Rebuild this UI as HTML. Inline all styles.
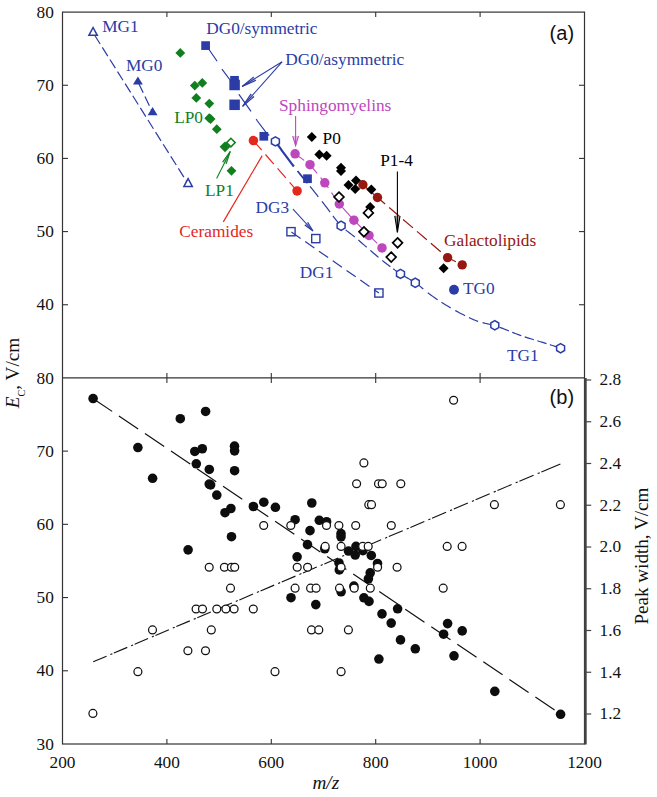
<!DOCTYPE html>
<html><head><meta charset="utf-8"><title>Figure</title>
<style>html,body{margin:0;padding:0;background:#fff;}svg{display:block;}</style>
</head><body>
<svg width="657" height="797" viewBox="0 0 657 797">
<rect width="657" height="797" fill="#fff"/>
<line x1="93.1" y1="32.7" x2="188.1" y2="183.9" stroke="#2b3ca6" stroke-width="1.2" stroke-dasharray="10.3 4" stroke-dashoffset="-3" stroke-linecap="butt"/>
<line x1="137.9" y1="81.7" x2="152.6" y2="112.4" stroke="#2b3ca6" stroke-width="1.2" stroke-dasharray="10.3 4" stroke-dashoffset="-2" stroke-linecap="butt"/>
<polyline points="205.7,45.5 208.7,49 217.1,61.2 221.6,68.8 230.8,81 239.1,94.7 252.1,113 257.4,121 265.8,132.2 275.4,141.4" fill="none" stroke="#2b3ca6" stroke-width="1.2" stroke-dasharray="21 9.3" stroke-dashoffset="1.5"/>
<polyline points="277.4,144.24 278.9,146.35 280.4,148.44 281.9,150.52 283.4,152.57 284.9,154.61 286.4,156.64 287.9,158.64 289.4,160.63 290.9,162.61 292.4,164.56 293.9,166.5" fill="none" stroke="#2b3ca6" stroke-width="2.2"/>
<polyline points="297.5,171.03 299.17,173.08 300.83,175.1 302.5,177.11 304.17,179.12 305.83,181.14 307.5,183.17" fill="none" stroke="#2b3ca6" stroke-width="1.7"/>
<polyline points="310,186.27 311.66,188.36 313.32,190.45 314.98,192.55 316.64,194.66 318.3,196.77" fill="none" stroke="#2b3ca6" stroke-width="1.2"/>
<polyline points="321.9,201.35 323.54,203.44 325.18,205.53 326.82,207.66 328.46,209.86 330.1,212.1" fill="none" stroke="#2b3ca6" stroke-width="1.2"/>
<polyline points="332.9,215.9 334.54,218.09 336.18,220.2 337.82,222.2 339.46,224.08 341.1,225.8" fill="none" stroke="#2b3ca6" stroke-width="1.2"/>
<polyline points="345.7,229.93 347.22,231.15 348.73,232.32 350.25,233.48 351.77,234.63 353.28,235.8 354.8,237.01" fill="none" stroke="#2b3ca6" stroke-width="1.2"/>
<polyline points="358.4,240.05 360.06,241.48 361.72,242.94 363.38,244.39 365.04,245.85 366.7,247.3" fill="none" stroke="#2b3ca6" stroke-width="1.2"/>
<polyline points="370.3,250.4 371.94,251.79 373.58,253.19 375.22,254.58 376.86,255.97 378.5,257.34" fill="none" stroke="#2b3ca6" stroke-width="1.2"/>
<polyline points="382.2,260.38 383.84,261.69 385.48,262.97 387.12,264.24 388.76,265.49 390.4,266.74" fill="none" stroke="#2b3ca6" stroke-width="1.2"/>
<polyline points="393.2,268.81 395.02,270.13 396.85,271.43 398.68,272.68 400.5,273.9" fill="none" stroke="#2b3ca6" stroke-width="1.2"/>
<polyline points="404,276.06 405.6,276.98 407.2,277.88 408.8,278.78 410.4,279.69 412,280.63" fill="none" stroke="#2b3ca6" stroke-width="1.2"/>
<polyline points="415.4,282.8 416.98,283.92 418.56,285.13 420.14,286.39 421.72,287.7 423.3,289.02" fill="none" stroke="#2b3ca6" stroke-width="1.2"/>
<polyline points="427.8,292.73 429.45,294 431.1,295.2 432.75,296.37 434.4,297.53 436.05,298.66 437.7,299.78" fill="none" stroke="#2b3ca6" stroke-width="1.2"/>
<polyline points="441.5,302.28 443.03,303.26 444.57,304.22 446.1,305.16 447.63,306.09 449.17,307.01 450.7,307.92" fill="none" stroke="#2b3ca6" stroke-width="1.2"/>
<polyline points="455.2,310.49 456.85,311.4 458.5,312.29 460.15,313.16 461.8,314 463.45,314.83 465.1,315.67" fill="none" stroke="#2b3ca6" stroke-width="1.2"/>
<polyline points="468.9,317.55 470.43,318.28 471.97,318.99 473.5,319.66 475.03,320.29 476.57,320.87 478.1,321.4" fill="none" stroke="#2b3ca6" stroke-width="1.2"/>
<polyline points="482.6,322.68 484.3,323.09 486,323.48 487.7,323.86 489.4,324.25 491.1,324.65 492.8,325.09 494.5,325.57" fill="none" stroke="#2b3ca6" stroke-width="1.2"/>
<polyline points="499.6,327.26 501.13,327.82 502.67,328.4 504.2,329 505.73,329.61 507.27,330.23 508.8,330.85" fill="none" stroke="#2b3ca6" stroke-width="1.2"/>
<polyline points="512.2,332.24 513.72,332.85 515.23,333.45 516.75,334.04 518.27,334.61 519.78,335.17 521.3,335.7" fill="none" stroke="#2b3ca6" stroke-width="1.2"/>
<polyline points="524.7,336.84 526.23,337.34 527.77,337.84 529.3,338.32 530.83,338.8 532.37,339.28 533.9,339.75" fill="none" stroke="#2b3ca6" stroke-width="1.2"/>
<polyline points="537.3,340.79 538.83,341.25 540.37,341.72 541.9,342.19 543.43,342.66 544.97,343.13 546.5,343.61" fill="none" stroke="#2b3ca6" stroke-width="1.2"/>
<polyline points="549.9,344.68 551.6,345.23 553.3,345.77 555,346.32 556.7,346.87 558.4,347.42 560.1,347.97" fill="none" stroke="#2b3ca6" stroke-width="1.2"/>
<line x1="291" y1="231.7" x2="378.9" y2="293" stroke="#2b3ca6" stroke-width="1.2" stroke-dasharray="11.2 5.6" stroke-dashoffset="-0.5" stroke-linecap="butt"/>
<line x1="253.4" y1="140.6" x2="297.1" y2="190.9" stroke="#e3281e" stroke-width="1.2" stroke-dasharray="12.7 5.7" stroke-dashoffset="0" stroke-linecap="butt"/>
<line x1="223.3" y1="221.9" x2="262.2" y2="155.6" stroke="#e3281e" stroke-width="1.2" stroke-linecap="butt"/>
<polyline points="295.1,153.8 310,164.7 324.8,182.8 339.3,204 353.9,220.2 369,235.4 382,247.9" fill="none" stroke="#bd47bd" stroke-width="1.1" stroke-dasharray="13 5.5" stroke-dashoffset="1.8"/>
<line x1="362.9" y1="184.7" x2="377.5" y2="197.5" stroke="#961810" stroke-width="1.2" stroke-linecap="butt"/>
<polyline points="377.5,197.5 447.6,257.6 462.2,264.9" fill="none" stroke="#961810" stroke-width="1.2" stroke-dasharray="13 5.3" stroke-dashoffset="2.9"/>
<line x1="282.1" y1="61.8" x2="242.1" y2="86.5" stroke="#2b3ca6" stroke-width="1.1" stroke-linecap="butt"/>
<polyline points="253.81,76.92 242.1,86.5 255.91,80.32" fill="#2b3ca6" fill-opacity="0.35" stroke="#2b3ca6" stroke-width="1.1" stroke-linejoin="miter"/>
<line x1="282.1" y1="61.8" x2="242.6" y2="106.4" stroke="#2b3ca6" stroke-width="1.1" stroke-linecap="butt"/>
<polyline points="251.05,93.84 242.6,106.4 254.04,96.5" fill="#2b3ca6" fill-opacity="0.35" stroke="#2b3ca6" stroke-width="1.1" stroke-linejoin="miter"/>
<line x1="216.6" y1="178.4" x2="230.3" y2="151.4" stroke="#10801f" stroke-width="1.1" stroke-linecap="butt"/>
<polyline points="226.2,163.9 230.3,151.4 222.63,162.09" fill="#10801f" fill-opacity="0.35" stroke="#10801f" stroke-width="1.1" stroke-linejoin="miter"/>
<line x1="293" y1="209.2" x2="313" y2="231" stroke="#2b3ca6" stroke-width="1.1" stroke-linecap="butt"/>
<polyline points="304.77,224.98 313,231 307.71,222.28" fill="#2b3ca6" fill-opacity="0.35" stroke="#2b3ca6" stroke-width="1.1" stroke-linejoin="miter"/>
<line x1="295.6" y1="116" x2="295.6" y2="145.7" stroke="#bd47bd" stroke-width="1.1" stroke-linecap="butt"/>
<polyline points="292.7,136.1 295.6,145.7 298.5,136.1" fill="#bd47bd" fill-opacity="0.35" stroke="#bd47bd" stroke-width="1.1" stroke-linejoin="miter"/>
<line x1="397.4" y1="171.4" x2="397.4" y2="232.3" stroke="#000" stroke-width="1.1" stroke-linecap="butt"/>
<polyline points="394.8,215.8 397.4,232.3 400,215.8" fill="#000" fill-opacity="0.35" stroke="#000" stroke-width="1.1" stroke-linejoin="miter"/>
<polygon points="93.1,27.5 97.3,35.3 88.9,35.3" fill="#fff" stroke="#2b3ca6" stroke-width="1.5" stroke-linejoin="miter"/>
<polygon points="188.1,178.7 192.3,186.5 183.9,186.5" fill="#fff" stroke="#2b3ca6" stroke-width="1.5" stroke-linejoin="miter"/>
<polygon points="137.9,76.4 142.85,84.6 132.95,84.6" fill="#2b3ca6" stroke="none" stroke-width="0" stroke-linejoin="miter"/>
<polygon points="152.6,107.1 157.55,115.3 147.65,115.3" fill="#2b3ca6" stroke="none" stroke-width="0" stroke-linejoin="miter"/>
<polygon points="180.3,48 185.2,52.9 180.3,57.8 175.4,52.9" fill="#10801f" stroke="none" stroke-width="0"/>
<polygon points="194.8,80.7 199.7,85.6 194.8,90.5 189.9,85.6" fill="#10801f" stroke="none" stroke-width="0"/>
<polygon points="202.3,78 207.2,82.9 202.3,87.8 197.4,82.9" fill="#10801f" stroke="none" stroke-width="0"/>
<polygon points="196.3,93 201.2,97.9 196.3,102.8 191.4,97.9" fill="#10801f" stroke="none" stroke-width="0"/>
<polygon points="209.3,98.7 214.2,103.6 209.3,108.5 204.4,103.6" fill="#10801f" stroke="none" stroke-width="0"/>
<polygon points="209.2,113.3 214.1,118.2 209.2,123.1 204.3,118.2" fill="#10801f" stroke="none" stroke-width="0"/>
<polygon points="210.6,114.1 215.5,119 210.6,123.9 205.7,119" fill="#10801f" stroke="none" stroke-width="0"/>
<polygon points="216.8,124.3 221.7,129.2 216.8,134.1 211.9,129.2" fill="#10801f" stroke="none" stroke-width="0"/>
<polygon points="231.5,165.9 236.4,170.8 231.5,175.7 226.6,170.8" fill="#10801f" stroke="none" stroke-width="0"/>
<polygon points="225,141.4 230.4,146.8 225,152.2 219.6,146.8" fill="#10801f" stroke="none" stroke-width="0"/>
<polygon points="230.9,138.3 235.2,142.6 230.9,146.9 226.6,142.6" fill="#fff" stroke="#10801f" stroke-width="1.5"/>
<rect x="201.25" y="41.25" width="8.7" height="8.7" fill="#2b3ca6" stroke="none" stroke-width="0"/>
<rect x="259.45" y="131.95" width="8.7" height="8.7" fill="#2b3ca6" stroke="none" stroke-width="0"/>
<rect x="303.15" y="174.35" width="8.7" height="8.7" fill="#2b3ca6" stroke="none" stroke-width="0"/>
<rect x="230.15" y="75.95" width="8.7" height="8.7" fill="#2b3ca6" stroke="none" stroke-width="0"/>
<rect x="229.35" y="79.75" width="10.5" height="10.5" fill="#2b3ca6" stroke="none" stroke-width="0"/>
<rect x="229.35" y="99.55" width="10.5" height="10.5" fill="#2b3ca6" stroke="none" stroke-width="0"/>
<rect x="286.9" y="227.6" width="8.2" height="8.2" fill="none" stroke="#2b3ca6" stroke-width="1.4"/>
<rect x="311.7" y="234.5" width="8.2" height="8.2" fill="none" stroke="#2b3ca6" stroke-width="1.4"/>
<rect x="374.8" y="288.9" width="8.2" height="8.2" fill="none" stroke="#2b3ca6" stroke-width="1.4"/>
<circle cx="253.4" cy="140.6" r="4.75" fill="#e3281e" stroke="none" stroke-width="0"/>
<circle cx="297.1" cy="190.9" r="4.75" fill="#e3281e" stroke="none" stroke-width="0"/>
<circle cx="295.1" cy="153.8" r="4.75" fill="#bd47bd" stroke="none" stroke-width="0"/>
<circle cx="310" cy="164.7" r="4.75" fill="#bd47bd" stroke="none" stroke-width="0"/>
<circle cx="324.8" cy="182.8" r="4.75" fill="#bd47bd" stroke="none" stroke-width="0"/>
<circle cx="339.3" cy="204" r="4.75" fill="#bd47bd" stroke="none" stroke-width="0"/>
<circle cx="353.9" cy="220.2" r="4.75" fill="#bd47bd" stroke="none" stroke-width="0"/>
<circle cx="369" cy="235.4" r="4.75" fill="#bd47bd" stroke="none" stroke-width="0"/>
<circle cx="382" cy="247.9" r="4.75" fill="#bd47bd" stroke="none" stroke-width="0"/>
<polygon points="311.8,132.1 316.8,137.1 311.8,142.1 306.8,137.1" fill="#000" stroke="none" stroke-width="0"/>
<polygon points="319.3,149.4 324.3,154.4 319.3,159.4 314.3,154.4" fill="#000" stroke="none" stroke-width="0"/>
<polygon points="326.6,150.8 331.6,155.8 326.6,160.8 321.6,155.8" fill="#000" stroke="none" stroke-width="0"/>
<polygon points="341,162.7 346,167.7 341,172.7 336,167.7" fill="#000" stroke="none" stroke-width="0"/>
<polygon points="341,165.9 346,170.9 341,175.9 336,170.9" fill="#000" stroke="none" stroke-width="0"/>
<polygon points="348.5,180.1 353.5,185.1 348.5,190.1 343.5,185.1" fill="#000" stroke="none" stroke-width="0"/>
<polygon points="356,175.4 361,180.4 356,185.4 351,180.4" fill="#000" stroke="none" stroke-width="0"/>
<polygon points="355.2,184.1 360.2,189.1 355.2,194.1 350.2,189.1" fill="#000" stroke="none" stroke-width="0"/>
<polygon points="371.3,184.5 376.3,189.5 371.3,194.5 366.3,189.5" fill="#000" stroke="none" stroke-width="0"/>
<polygon points="370.2,201.9 375.2,206.9 370.2,211.9 365.2,206.9" fill="#000" stroke="none" stroke-width="0"/>
<polygon points="443.6,263.2 448.6,268.2 443.6,273.2 438.6,268.2" fill="#000" stroke="none" stroke-width="0"/>
<circle cx="362.9" cy="184.7" r="4.7" fill="#961810" stroke="none" stroke-width="0"/>
<circle cx="377.5" cy="197.5" r="4.7" fill="#961810" stroke="none" stroke-width="0"/>
<circle cx="447.6" cy="257.6" r="4.7" fill="#961810" stroke="none" stroke-width="0"/>
<circle cx="462.2" cy="264.9" r="4.7" fill="#961810" stroke="none" stroke-width="0"/>
<polygon points="339,192.1 343.9,197 339,201.9 334.1,197" fill="#fff" stroke="#000" stroke-width="1.7"/>
<polygon points="368.4,208 373.3,212.9 368.4,217.8 363.5,212.9" fill="#fff" stroke="#000" stroke-width="1.7"/>
<polygon points="363.9,226.9 368.8,231.8 363.9,236.7 359,231.8" fill="#fff" stroke="#000" stroke-width="1.7"/>
<polygon points="397.6,237.9 402.5,242.8 397.6,247.7 392.7,242.8" fill="#fff" stroke="#000" stroke-width="1.7"/>
<polygon points="391.2,252.2 396.1,257.1 391.2,262 386.3,257.1" fill="#fff" stroke="#000" stroke-width="1.7"/>
<polygon points="275.4,136.8 279.38,139.1 279.38,143.7 275.4,146 271.42,143.7 271.42,139.1" fill="#fff" stroke="#2b3ca6" stroke-width="1.5"/>
<polygon points="341.1,221.2 345.08,223.5 345.08,228.1 341.1,230.4 337.12,228.1 337.12,223.5" fill="#fff" stroke="#2b3ca6" stroke-width="1.5"/>
<polygon points="400.5,269.3 404.48,271.6 404.48,276.2 400.5,278.5 396.52,276.2 396.52,271.6" fill="#fff" stroke="#2b3ca6" stroke-width="1.5"/>
<polygon points="415.3,278.2 419.28,280.5 419.28,285.1 415.3,287.4 411.32,285.1 411.32,280.5" fill="#fff" stroke="#2b3ca6" stroke-width="1.5"/>
<polygon points="494.8,320.7 498.78,323 498.78,327.6 494.8,329.9 490.82,327.6 490.82,323" fill="#fff" stroke="#2b3ca6" stroke-width="1.5"/>
<polygon points="560.6,343.6 564.58,345.9 564.58,350.5 560.6,352.8 556.62,350.5 556.62,345.9" fill="#fff" stroke="#2b3ca6" stroke-width="1.5"/>
<circle cx="454" cy="289.8" r="4.95" fill="#2b3ca6" stroke="none" stroke-width="0"/>
<text x="102.2" y="32.3" fill="#2b3ca6" font-size="17.3" text-anchor="start" font-family="'Liberation Serif', serif">MG1</text>
<text x="125.9" y="71" fill="#2b3ca6" font-size="17.3" text-anchor="start" font-family="'Liberation Serif', serif">MG0</text>
<text x="206.2" y="33.8" fill="#2b3ca6" font-size="17.3" text-anchor="start" font-family="'Liberation Serif', serif">DG0/symmetric</text>
<text x="285.2" y="64.8" fill="#2b3ca6" font-size="17.3" text-anchor="start" font-family="'Liberation Serif', serif">DG0/asymmetric</text>
<text x="174.2" y="122.7" fill="#10801f" font-size="17.3" text-anchor="start" font-family="'Liberation Serif', serif">LP0</text>
<text x="205" y="195.6" fill="#10801f" font-size="17.3" text-anchor="start" font-family="'Liberation Serif', serif">LP1</text>
<text x="279" y="110.9" fill="#bd47bd" font-size="17.3" text-anchor="start" font-family="'Liberation Serif', serif">Sphingomyelins</text>
<text x="322.6" y="143.7" fill="#000" font-size="17.3" text-anchor="start" font-family="'Liberation Serif', serif">P0</text>
<text x="380.2" y="165.8" fill="#000" font-size="17.3" text-anchor="start" font-family="'Liberation Serif', serif">P1-4</text>
<text x="179.3" y="236.5" fill="#e3281e" font-size="17.3" text-anchor="start" font-family="'Liberation Serif', serif">Ceramides</text>
<text x="255.6" y="212.5" fill="#2b3ca6" font-size="17.3" text-anchor="start" font-family="'Liberation Serif', serif">DG3</text>
<text x="299.8" y="278.4" fill="#2b3ca6" font-size="17.3" text-anchor="start" font-family="'Liberation Serif', serif">DG1</text>
<text x="444" y="245.5" fill="#961810" font-size="17.3" text-anchor="start" font-family="'Liberation Serif', serif">Galactolipids</text>
<text x="463" y="294.1" fill="#2b3ca6" font-size="17.3" text-anchor="start" font-family="'Liberation Serif', serif">TG0</text>
<text x="507" y="361.1" fill="#2b3ca6" font-size="17.3" text-anchor="start" font-family="'Liberation Serif', serif">TG1</text>
<text x="549.6" y="40.3" fill="#111" font-size="20" text-anchor="start" font-family="'Liberation Sans', serif">(a)</text>
<text x="549.6" y="404" fill="#111" font-size="20" text-anchor="start" font-family="'Liberation Sans', serif">(b)</text>
<line x1="92.9" y1="398.4" x2="560.6" y2="714" stroke="#111" stroke-width="1.2" stroke-dasharray="23.2 8.2" stroke-dashoffset="0" stroke-linecap="butt"/>
<line x1="93.2" y1="661.8" x2="106.54" y2="656.15" stroke="#111" stroke-width="1.1" stroke-linecap="butt"/>
<line x1="110.37" y1="654.53" x2="112.33" y2="653.7" stroke="#111" stroke-width="1.1" stroke-linecap="butt"/>
<line x1="113.88" y1="653.04" x2="127.27" y2="647.37" stroke="#111" stroke-width="1.1" stroke-linecap="butt"/>
<line x1="131.1" y1="645.74" x2="133.08" y2="644.91" stroke="#111" stroke-width="1.1" stroke-linecap="butt"/>
<line x1="134.63" y1="644.25" x2="148.06" y2="638.56" stroke="#111" stroke-width="1.1" stroke-linecap="butt"/>
<line x1="151.91" y1="636.93" x2="153.89" y2="636.09" stroke="#111" stroke-width="1.1" stroke-linecap="butt"/>
<line x1="155.45" y1="635.43" x2="168.92" y2="629.73" stroke="#111" stroke-width="1.1" stroke-linecap="butt"/>
<line x1="172.78" y1="628.09" x2="174.76" y2="627.25" stroke="#111" stroke-width="1.1" stroke-linecap="butt"/>
<line x1="176.33" y1="626.59" x2="189.84" y2="620.87" stroke="#111" stroke-width="1.1" stroke-linecap="butt"/>
<line x1="193.71" y1="619.22" x2="195.7" y2="618.38" stroke="#111" stroke-width="1.1" stroke-linecap="butt"/>
<line x1="197.27" y1="617.72" x2="210.83" y2="611.97" stroke="#111" stroke-width="1.1" stroke-linecap="butt"/>
<line x1="214.72" y1="610.33" x2="216.71" y2="609.48" stroke="#111" stroke-width="1.1" stroke-linecap="butt"/>
<line x1="218.29" y1="608.81" x2="231.88" y2="603.06" stroke="#111" stroke-width="1.1" stroke-linecap="butt"/>
<line x1="235.78" y1="601.4" x2="237.79" y2="600.56" stroke="#111" stroke-width="1.1" stroke-linecap="butt"/>
<line x1="239.37" y1="599.89" x2="253.01" y2="594.11" stroke="#111" stroke-width="1.1" stroke-linecap="butt"/>
<line x1="256.92" y1="592.45" x2="258.93" y2="591.6" stroke="#111" stroke-width="1.1" stroke-linecap="butt"/>
<line x1="260.51" y1="590.93" x2="274.19" y2="585.13" stroke="#111" stroke-width="1.1" stroke-linecap="butt"/>
<line x1="278.12" y1="583.47" x2="280.13" y2="582.62" stroke="#111" stroke-width="1.1" stroke-linecap="butt"/>
<line x1="281.72" y1="581.94" x2="295.45" y2="576.13" stroke="#111" stroke-width="1.1" stroke-linecap="butt"/>
<line x1="299.38" y1="574.46" x2="301.4" y2="573.61" stroke="#111" stroke-width="1.1" stroke-linecap="butt"/>
<line x1="303" y1="572.93" x2="316.77" y2="567.1" stroke="#111" stroke-width="1.1" stroke-linecap="butt"/>
<line x1="320.71" y1="565.43" x2="322.74" y2="564.57" stroke="#111" stroke-width="1.1" stroke-linecap="butt"/>
<line x1="324.34" y1="563.89" x2="338.15" y2="558.04" stroke="#111" stroke-width="1.1" stroke-linecap="butt"/>
<line x1="342.11" y1="556.36" x2="344.15" y2="555.5" stroke="#111" stroke-width="1.1" stroke-linecap="butt"/>
<line x1="345.75" y1="554.82" x2="359.6" y2="548.95" stroke="#111" stroke-width="1.1" stroke-linecap="butt"/>
<line x1="363.58" y1="547.27" x2="365.62" y2="546.41" stroke="#111" stroke-width="1.1" stroke-linecap="butt"/>
<line x1="367.23" y1="545.73" x2="381.12" y2="539.84" stroke="#111" stroke-width="1.1" stroke-linecap="butt"/>
<line x1="385.11" y1="538.15" x2="387.15" y2="537.29" stroke="#111" stroke-width="1.1" stroke-linecap="butt"/>
<line x1="388.77" y1="536.6" x2="402.7" y2="530.7" stroke="#111" stroke-width="1.1" stroke-linecap="butt"/>
<line x1="406.7" y1="529" x2="408.75" y2="528.14" stroke="#111" stroke-width="1.1" stroke-linecap="butt"/>
<line x1="410.38" y1="527.45" x2="424.35" y2="521.53" stroke="#111" stroke-width="1.1" stroke-linecap="butt"/>
<line x1="428.36" y1="519.83" x2="430.42" y2="518.96" stroke="#111" stroke-width="1.1" stroke-linecap="butt"/>
<line x1="432.05" y1="518.27" x2="446.07" y2="512.33" stroke="#111" stroke-width="1.1" stroke-linecap="butt"/>
<line x1="450.09" y1="510.63" x2="452.16" y2="509.75" stroke="#111" stroke-width="1.1" stroke-linecap="butt"/>
<line x1="453.79" y1="509.06" x2="467.85" y2="503.1" stroke="#111" stroke-width="1.1" stroke-linecap="butt"/>
<line x1="471.89" y1="501.39" x2="473.96" y2="500.52" stroke="#111" stroke-width="1.1" stroke-linecap="butt"/>
<line x1="475.59" y1="499.82" x2="489.7" y2="493.85" stroke="#111" stroke-width="1.1" stroke-linecap="butt"/>
<line x1="493.74" y1="492.13" x2="495.82" y2="491.25" stroke="#111" stroke-width="1.1" stroke-linecap="butt"/>
<line x1="497.46" y1="490.56" x2="511.61" y2="484.57" stroke="#111" stroke-width="1.1" stroke-linecap="butt"/>
<line x1="515.67" y1="482.85" x2="517.75" y2="481.96" stroke="#111" stroke-width="1.1" stroke-linecap="butt"/>
<line x1="519.4" y1="481.27" x2="533.59" y2="475.26" stroke="#111" stroke-width="1.1" stroke-linecap="butt"/>
<line x1="537.66" y1="473.53" x2="539.75" y2="472.65" stroke="#111" stroke-width="1.1" stroke-linecap="butt"/>
<line x1="541.4" y1="471.95" x2="560.4" y2="463.9" stroke="#111" stroke-width="1.1" stroke-linecap="butt"/>
<circle cx="93.1" cy="398.52" r="4.8" fill="#0d0d0d" stroke="none" stroke-width="0"/>
<circle cx="188.1" cy="549.84" r="4.8" fill="#0d0d0d" stroke="none" stroke-width="0"/>
<circle cx="137.9" cy="447.56" r="4.8" fill="#0d0d0d" stroke="none" stroke-width="0"/>
<circle cx="152.6" cy="478.28" r="4.8" fill="#0d0d0d" stroke="none" stroke-width="0"/>
<circle cx="180.3" cy="418.73" r="4.8" fill="#0d0d0d" stroke="none" stroke-width="0"/>
<circle cx="194.8" cy="451.46" r="4.8" fill="#0d0d0d" stroke="none" stroke-width="0"/>
<circle cx="202.3" cy="448.76" r="4.8" fill="#0d0d0d" stroke="none" stroke-width="0"/>
<circle cx="196.3" cy="463.77" r="4.8" fill="#0d0d0d" stroke="none" stroke-width="0"/>
<circle cx="209.3" cy="469.48" r="4.8" fill="#0d0d0d" stroke="none" stroke-width="0"/>
<circle cx="209.2" cy="484.09" r="4.8" fill="#0d0d0d" stroke="none" stroke-width="0"/>
<circle cx="210.6" cy="484.89" r="4.8" fill="#0d0d0d" stroke="none" stroke-width="0"/>
<circle cx="216.8" cy="495.1" r="4.8" fill="#0d0d0d" stroke="none" stroke-width="0"/>
<circle cx="231.5" cy="536.73" r="4.8" fill="#0d0d0d" stroke="none" stroke-width="0"/>
<circle cx="225" cy="512.71" r="4.8" fill="#0d0d0d" stroke="none" stroke-width="0"/>
<circle cx="230.9" cy="508.51" r="4.8" fill="#0d0d0d" stroke="none" stroke-width="0"/>
<circle cx="205.6" cy="411.43" r="4.8" fill="#0d0d0d" stroke="none" stroke-width="0"/>
<circle cx="263.8" cy="502.2" r="4.8" fill="#0d0d0d" stroke="none" stroke-width="0"/>
<circle cx="307.5" cy="544.64" r="4.8" fill="#0d0d0d" stroke="none" stroke-width="0"/>
<circle cx="234.5" cy="446.16" r="4.8" fill="#0d0d0d" stroke="none" stroke-width="0"/>
<circle cx="234.6" cy="450.86" r="4.8" fill="#0d0d0d" stroke="none" stroke-width="0"/>
<circle cx="234.6" cy="470.68" r="4.8" fill="#0d0d0d" stroke="none" stroke-width="0"/>
<circle cx="275.4" cy="507.31" r="4.8" fill="#0d0d0d" stroke="none" stroke-width="0"/>
<circle cx="341.1" cy="591.78" r="4.8" fill="#0d0d0d" stroke="none" stroke-width="0"/>
<circle cx="400.5" cy="639.91" r="4.8" fill="#0d0d0d" stroke="none" stroke-width="0"/>
<circle cx="415.3" cy="648.82" r="4.8" fill="#0d0d0d" stroke="none" stroke-width="0"/>
<circle cx="494.8" cy="691.36" r="4.8" fill="#0d0d0d" stroke="none" stroke-width="0"/>
<circle cx="560.6" cy="714.28" r="4.8" fill="#0d0d0d" stroke="none" stroke-width="0"/>
<circle cx="253.4" cy="506.51" r="4.8" fill="#0d0d0d" stroke="none" stroke-width="0"/>
<circle cx="297.1" cy="556.85" r="4.8" fill="#0d0d0d" stroke="none" stroke-width="0"/>
<circle cx="295.1" cy="519.72" r="4.8" fill="#0d0d0d" stroke="none" stroke-width="0"/>
<circle cx="310" cy="530.63" r="4.8" fill="#0d0d0d" stroke="none" stroke-width="0"/>
<circle cx="324.8" cy="548.74" r="4.8" fill="#0d0d0d" stroke="none" stroke-width="0"/>
<circle cx="339.3" cy="569.96" r="4.8" fill="#0d0d0d" stroke="none" stroke-width="0"/>
<circle cx="353.9" cy="586.17" r="4.8" fill="#0d0d0d" stroke="none" stroke-width="0"/>
<circle cx="369" cy="601.38" r="4.8" fill="#0d0d0d" stroke="none" stroke-width="0"/>
<circle cx="382" cy="613.89" r="4.8" fill="#0d0d0d" stroke="none" stroke-width="0"/>
<circle cx="311.8" cy="503" r="4.8" fill="#0d0d0d" stroke="none" stroke-width="0"/>
<circle cx="319.3" cy="520.32" r="4.8" fill="#0d0d0d" stroke="none" stroke-width="0"/>
<circle cx="326.6" cy="521.72" r="4.8" fill="#0d0d0d" stroke="none" stroke-width="0"/>
<circle cx="341" cy="533.63" r="4.8" fill="#0d0d0d" stroke="none" stroke-width="0"/>
<circle cx="341" cy="536.83" r="4.8" fill="#0d0d0d" stroke="none" stroke-width="0"/>
<circle cx="348.5" cy="551.04" r="4.8" fill="#0d0d0d" stroke="none" stroke-width="0"/>
<circle cx="356" cy="546.34" r="4.8" fill="#0d0d0d" stroke="none" stroke-width="0"/>
<circle cx="355.2" cy="555.05" r="4.8" fill="#0d0d0d" stroke="none" stroke-width="0"/>
<circle cx="371.3" cy="555.45" r="4.8" fill="#0d0d0d" stroke="none" stroke-width="0"/>
<circle cx="370.2" cy="572.86" r="4.8" fill="#0d0d0d" stroke="none" stroke-width="0"/>
<circle cx="443.6" cy="634.21" r="4.8" fill="#0d0d0d" stroke="none" stroke-width="0"/>
<circle cx="362.9" cy="550.64" r="4.8" fill="#0d0d0d" stroke="none" stroke-width="0"/>
<circle cx="377.5" cy="563.45" r="4.8" fill="#0d0d0d" stroke="none" stroke-width="0"/>
<circle cx="447.6" cy="623.6" r="4.8" fill="#0d0d0d" stroke="none" stroke-width="0"/>
<circle cx="462.2" cy="630.91" r="4.8" fill="#0d0d0d" stroke="none" stroke-width="0"/>
<circle cx="339" cy="562.95" r="4.8" fill="#0d0d0d" stroke="none" stroke-width="0"/>
<circle cx="368.4" cy="578.86" r="4.8" fill="#0d0d0d" stroke="none" stroke-width="0"/>
<circle cx="363.9" cy="597.78" r="4.8" fill="#0d0d0d" stroke="none" stroke-width="0"/>
<circle cx="397.6" cy="608.79" r="4.8" fill="#0d0d0d" stroke="none" stroke-width="0"/>
<circle cx="391.2" cy="623.1" r="4.8" fill="#0d0d0d" stroke="none" stroke-width="0"/>
<circle cx="291" cy="597.68" r="4.8" fill="#0d0d0d" stroke="none" stroke-width="0"/>
<circle cx="315.8" cy="604.59" r="4.8" fill="#0d0d0d" stroke="none" stroke-width="0"/>
<circle cx="378.9" cy="659.03" r="4.8" fill="#0d0d0d" stroke="none" stroke-width="0"/>
<circle cx="454" cy="655.83" r="4.8" fill="#0d0d0d" stroke="none" stroke-width="0"/>
<circle cx="453.6" cy="400.27" r="3.95" fill="#fff" stroke="#111" stroke-width="1.25"/>
<circle cx="363.9" cy="462.9" r="3.95" fill="#fff" stroke="#111" stroke-width="1.25"/>
<circle cx="356.6" cy="483.77" r="3.95" fill="#fff" stroke="#111" stroke-width="1.25"/>
<circle cx="378.5" cy="483.77" r="3.95" fill="#fff" stroke="#111" stroke-width="1.25"/>
<circle cx="382.2" cy="483.77" r="3.95" fill="#fff" stroke="#111" stroke-width="1.25"/>
<circle cx="400.8" cy="483.77" r="3.95" fill="#fff" stroke="#111" stroke-width="1.25"/>
<circle cx="368.8" cy="504.65" r="3.95" fill="#fff" stroke="#111" stroke-width="1.25"/>
<circle cx="371.5" cy="504.65" r="3.95" fill="#fff" stroke="#111" stroke-width="1.25"/>
<circle cx="494.4" cy="504.65" r="3.95" fill="#fff" stroke="#111" stroke-width="1.25"/>
<circle cx="560.4" cy="504.65" r="3.95" fill="#fff" stroke="#111" stroke-width="1.25"/>
<circle cx="263.7" cy="525.52" r="3.95" fill="#fff" stroke="#111" stroke-width="1.25"/>
<circle cx="290.8" cy="525.52" r="3.95" fill="#fff" stroke="#111" stroke-width="1.25"/>
<circle cx="326.5" cy="525.52" r="3.95" fill="#fff" stroke="#111" stroke-width="1.25"/>
<circle cx="338.9" cy="525.52" r="3.95" fill="#fff" stroke="#111" stroke-width="1.25"/>
<circle cx="355.7" cy="525.52" r="3.95" fill="#fff" stroke="#111" stroke-width="1.25"/>
<circle cx="391.3" cy="525.52" r="3.95" fill="#fff" stroke="#111" stroke-width="1.25"/>
<circle cx="325.2" cy="546.4" r="3.95" fill="#fff" stroke="#111" stroke-width="1.25"/>
<circle cx="341.1" cy="546.4" r="3.95" fill="#fff" stroke="#111" stroke-width="1.25"/>
<circle cx="362.7" cy="546.4" r="3.95" fill="#fff" stroke="#111" stroke-width="1.25"/>
<circle cx="368.2" cy="546.4" r="3.95" fill="#fff" stroke="#111" stroke-width="1.25"/>
<circle cx="447.2" cy="546.4" r="3.95" fill="#fff" stroke="#111" stroke-width="1.25"/>
<circle cx="462.1" cy="546.4" r="3.95" fill="#fff" stroke="#111" stroke-width="1.25"/>
<circle cx="209.2" cy="567.27" r="3.95" fill="#fff" stroke="#111" stroke-width="1.25"/>
<circle cx="224.4" cy="567.27" r="3.95" fill="#fff" stroke="#111" stroke-width="1.25"/>
<circle cx="231.4" cy="567.27" r="3.95" fill="#fff" stroke="#111" stroke-width="1.25"/>
<circle cx="234.7" cy="567.27" r="3.95" fill="#fff" stroke="#111" stroke-width="1.25"/>
<circle cx="297.2" cy="567.27" r="3.95" fill="#fff" stroke="#111" stroke-width="1.25"/>
<circle cx="307.6" cy="567.27" r="3.95" fill="#fff" stroke="#111" stroke-width="1.25"/>
<circle cx="341.1" cy="567.27" r="3.95" fill="#fff" stroke="#111" stroke-width="1.25"/>
<circle cx="377.6" cy="567.27" r="3.95" fill="#fff" stroke="#111" stroke-width="1.25"/>
<circle cx="397.1" cy="567.27" r="3.95" fill="#fff" stroke="#111" stroke-width="1.25"/>
<circle cx="230.5" cy="588.15" r="3.95" fill="#fff" stroke="#111" stroke-width="1.25"/>
<circle cx="295.1" cy="588.15" r="3.95" fill="#fff" stroke="#111" stroke-width="1.25"/>
<circle cx="310.6" cy="588.15" r="3.95" fill="#fff" stroke="#111" stroke-width="1.25"/>
<circle cx="316.1" cy="588.15" r="3.95" fill="#fff" stroke="#111" stroke-width="1.25"/>
<circle cx="339.5" cy="588.15" r="3.95" fill="#fff" stroke="#111" stroke-width="1.25"/>
<circle cx="354.2" cy="588.15" r="3.95" fill="#fff" stroke="#111" stroke-width="1.25"/>
<circle cx="370.3" cy="588.15" r="3.95" fill="#fff" stroke="#111" stroke-width="1.25"/>
<circle cx="443.2" cy="588.15" r="3.95" fill="#fff" stroke="#111" stroke-width="1.25"/>
<circle cx="196.1" cy="609.02" r="3.95" fill="#fff" stroke="#111" stroke-width="1.25"/>
<circle cx="202.5" cy="609.02" r="3.95" fill="#fff" stroke="#111" stroke-width="1.25"/>
<circle cx="216.8" cy="609.02" r="3.95" fill="#fff" stroke="#111" stroke-width="1.25"/>
<circle cx="225.9" cy="609.02" r="3.95" fill="#fff" stroke="#111" stroke-width="1.25"/>
<circle cx="234.1" cy="609.02" r="3.95" fill="#fff" stroke="#111" stroke-width="1.25"/>
<circle cx="253.3" cy="609.02" r="3.95" fill="#fff" stroke="#111" stroke-width="1.25"/>
<circle cx="152.5" cy="629.9" r="3.95" fill="#fff" stroke="#111" stroke-width="1.25"/>
<circle cx="211.3" cy="629.9" r="3.95" fill="#fff" stroke="#111" stroke-width="1.25"/>
<circle cx="311.5" cy="629.9" r="3.95" fill="#fff" stroke="#111" stroke-width="1.25"/>
<circle cx="318.8" cy="629.9" r="3.95" fill="#fff" stroke="#111" stroke-width="1.25"/>
<circle cx="348.4" cy="629.9" r="3.95" fill="#fff" stroke="#111" stroke-width="1.25"/>
<circle cx="187.9" cy="650.77" r="3.95" fill="#fff" stroke="#111" stroke-width="1.25"/>
<circle cx="205.5" cy="650.77" r="3.95" fill="#fff" stroke="#111" stroke-width="1.25"/>
<circle cx="137.9" cy="671.65" r="3.95" fill="#fff" stroke="#111" stroke-width="1.25"/>
<circle cx="275" cy="671.65" r="3.95" fill="#fff" stroke="#111" stroke-width="1.25"/>
<circle cx="341.1" cy="671.65" r="3.95" fill="#fff" stroke="#111" stroke-width="1.25"/>
<circle cx="92.9" cy="713.4" r="3.95" fill="#fff" stroke="#111" stroke-width="1.25"/>
<rect x="62.5" y="12.1" width="522.0" height="731.9" fill="none" stroke="#333" stroke-width="1.2"/>
<line x1="62.5" y1="377.9" x2="584.5" y2="377.9" stroke="#333" stroke-width="1.2" stroke-linecap="butt"/>
<line x1="585.5" y1="377.9" x2="585.5" y2="744.6" stroke="#444" stroke-width="2.4" stroke-linecap="butt"/>
<line x1="166.9" y1="12.1" x2="166.9" y2="17.1" stroke="#333" stroke-width="1.1" stroke-linecap="butt"/>
<line x1="166.9" y1="372.9" x2="166.9" y2="382.9" stroke="#333" stroke-width="1.1" stroke-linecap="butt"/>
<line x1="166.9" y1="739" x2="166.9" y2="744" stroke="#333" stroke-width="1.1" stroke-linecap="butt"/>
<line x1="271.3" y1="12.1" x2="271.3" y2="17.1" stroke="#333" stroke-width="1.1" stroke-linecap="butt"/>
<line x1="271.3" y1="372.9" x2="271.3" y2="382.9" stroke="#333" stroke-width="1.1" stroke-linecap="butt"/>
<line x1="271.3" y1="739" x2="271.3" y2="744" stroke="#333" stroke-width="1.1" stroke-linecap="butt"/>
<line x1="375.7" y1="12.1" x2="375.7" y2="17.1" stroke="#333" stroke-width="1.1" stroke-linecap="butt"/>
<line x1="375.7" y1="372.9" x2="375.7" y2="382.9" stroke="#333" stroke-width="1.1" stroke-linecap="butt"/>
<line x1="375.7" y1="739" x2="375.7" y2="744" stroke="#333" stroke-width="1.1" stroke-linecap="butt"/>
<line x1="480.1" y1="12.1" x2="480.1" y2="17.1" stroke="#333" stroke-width="1.1" stroke-linecap="butt"/>
<line x1="480.1" y1="372.9" x2="480.1" y2="382.9" stroke="#333" stroke-width="1.1" stroke-linecap="butt"/>
<line x1="480.1" y1="739" x2="480.1" y2="744" stroke="#333" stroke-width="1.1" stroke-linecap="butt"/>
<line x1="62.5" y1="85.26" x2="68" y2="85.26" stroke="#333" stroke-width="1.1" stroke-linecap="butt"/>
<line x1="579" y1="85.26" x2="584.5" y2="85.26" stroke="#333" stroke-width="1.1" stroke-linecap="butt"/>
<line x1="62.5" y1="451.12" x2="68" y2="451.12" stroke="#333" stroke-width="1.1" stroke-linecap="butt"/>
<line x1="62.5" y1="158.42" x2="68" y2="158.42" stroke="#333" stroke-width="1.1" stroke-linecap="butt"/>
<line x1="579" y1="158.42" x2="584.5" y2="158.42" stroke="#333" stroke-width="1.1" stroke-linecap="butt"/>
<line x1="62.5" y1="524.34" x2="68" y2="524.34" stroke="#333" stroke-width="1.1" stroke-linecap="butt"/>
<line x1="62.5" y1="231.58" x2="68" y2="231.58" stroke="#333" stroke-width="1.1" stroke-linecap="butt"/>
<line x1="579" y1="231.58" x2="584.5" y2="231.58" stroke="#333" stroke-width="1.1" stroke-linecap="butt"/>
<line x1="62.5" y1="597.56" x2="68" y2="597.56" stroke="#333" stroke-width="1.1" stroke-linecap="butt"/>
<line x1="62.5" y1="304.74" x2="68" y2="304.74" stroke="#333" stroke-width="1.1" stroke-linecap="butt"/>
<line x1="579" y1="304.74" x2="584.5" y2="304.74" stroke="#333" stroke-width="1.1" stroke-linecap="butt"/>
<line x1="62.5" y1="670.78" x2="68" y2="670.78" stroke="#333" stroke-width="1.1" stroke-linecap="butt"/>
<line x1="585" y1="380" x2="591.2" y2="380" stroke="#444" stroke-width="1.2" stroke-linecap="butt"/>
<text x="599.6" y="385.4" fill="#111" font-size="17.3" text-anchor="start" font-family="'Liberation Serif', serif">2.8</text>
<line x1="585" y1="421.75" x2="591.2" y2="421.75" stroke="#444" stroke-width="1.2" stroke-linecap="butt"/>
<text x="599.6" y="427.15" fill="#111" font-size="17.3" text-anchor="start" font-family="'Liberation Serif', serif">2.6</text>
<line x1="585" y1="463.5" x2="591.2" y2="463.5" stroke="#444" stroke-width="1.2" stroke-linecap="butt"/>
<text x="599.6" y="468.9" fill="#111" font-size="17.3" text-anchor="start" font-family="'Liberation Serif', serif">2.4</text>
<line x1="585" y1="505.25" x2="591.2" y2="505.25" stroke="#444" stroke-width="1.2" stroke-linecap="butt"/>
<text x="599.6" y="510.65" fill="#111" font-size="17.3" text-anchor="start" font-family="'Liberation Serif', serif">2.2</text>
<line x1="585" y1="547" x2="591.2" y2="547" stroke="#444" stroke-width="1.2" stroke-linecap="butt"/>
<text x="599.6" y="552.4" fill="#111" font-size="17.3" text-anchor="start" font-family="'Liberation Serif', serif">2.0</text>
<line x1="585" y1="588.75" x2="591.2" y2="588.75" stroke="#444" stroke-width="1.2" stroke-linecap="butt"/>
<text x="599.6" y="594.15" fill="#111" font-size="17.3" text-anchor="start" font-family="'Liberation Serif', serif">1.8</text>
<line x1="585" y1="630.5" x2="591.2" y2="630.5" stroke="#444" stroke-width="1.2" stroke-linecap="butt"/>
<text x="599.6" y="635.9" fill="#111" font-size="17.3" text-anchor="start" font-family="'Liberation Serif', serif">1.6</text>
<line x1="585" y1="672.25" x2="591.2" y2="672.25" stroke="#444" stroke-width="1.2" stroke-linecap="butt"/>
<text x="599.6" y="677.65" fill="#111" font-size="17.3" text-anchor="start" font-family="'Liberation Serif', serif">1.4</text>
<line x1="585" y1="714" x2="591.2" y2="714" stroke="#444" stroke-width="1.2" stroke-linecap="butt"/>
<text x="599.6" y="719.4" fill="#111" font-size="17.3" text-anchor="start" font-family="'Liberation Serif', serif">1.2</text>
<text x="53.8" y="17.6" fill="#111" font-size="17.3" text-anchor="end" font-family="'Liberation Serif', serif">80</text>
<text x="53.8" y="90.76" fill="#111" font-size="17.3" text-anchor="end" font-family="'Liberation Serif', serif">70</text>
<text x="53.8" y="163.92" fill="#111" font-size="17.3" text-anchor="end" font-family="'Liberation Serif', serif">60</text>
<text x="53.8" y="237.08" fill="#111" font-size="17.3" text-anchor="end" font-family="'Liberation Serif', serif">50</text>
<text x="53.8" y="310.24" fill="#111" font-size="17.3" text-anchor="end" font-family="'Liberation Serif', serif">40</text>
<text x="53.8" y="383.8" fill="#111" font-size="17.3" text-anchor="end" font-family="'Liberation Serif', serif">80</text>
<text x="53.8" y="456.62" fill="#111" font-size="17.3" text-anchor="end" font-family="'Liberation Serif', serif">70</text>
<text x="53.8" y="529.84" fill="#111" font-size="17.3" text-anchor="end" font-family="'Liberation Serif', serif">60</text>
<text x="53.8" y="603.06" fill="#111" font-size="17.3" text-anchor="end" font-family="'Liberation Serif', serif">50</text>
<text x="53.8" y="676.28" fill="#111" font-size="17.3" text-anchor="end" font-family="'Liberation Serif', serif">40</text>
<text x="53.8" y="749.7" fill="#111" font-size="17.3" text-anchor="end" font-family="'Liberation Serif', serif">30</text>
<text x="62.5" y="767.5" fill="#111" font-size="17.3" text-anchor="middle" font-family="'Liberation Serif', serif">200</text>
<text x="166.9" y="767.5" fill="#111" font-size="17.3" text-anchor="middle" font-family="'Liberation Serif', serif">400</text>
<text x="271.3" y="767.5" fill="#111" font-size="17.3" text-anchor="middle" font-family="'Liberation Serif', serif">600</text>
<text x="375.7" y="767.5" fill="#111" font-size="17.3" text-anchor="middle" font-family="'Liberation Serif', serif">800</text>
<text x="480.1" y="767.5" fill="#111" font-size="17.3" text-anchor="middle" font-family="'Liberation Serif', serif">1000</text>
<text x="584.5" y="767.5" fill="#111" font-size="17.3" text-anchor="middle" font-family="'Liberation Serif', serif">1200</text>
<text x="325.8" y="789" fill="#111" font-size="19.2" text-anchor="middle" font-family="'Liberation Serif', serif" font-style="italic">m/z</text>
<text transform="translate(19.0,408.2) rotate(-90)" fill="#111" font-size="19.2" font-family="'Liberation Serif', serif"><tspan font-style="italic">E</tspan><tspan font-size="10.2" dy="5.8">C</tspan><tspan dy="-5.8">, V/cm</tspan></text>
<text transform="translate(647.7,624.6) rotate(-90)" fill="#111" font-size="19.1" font-family="'Liberation Serif', serif">Peak width, V/cm</text>
</svg>
</body></html>
